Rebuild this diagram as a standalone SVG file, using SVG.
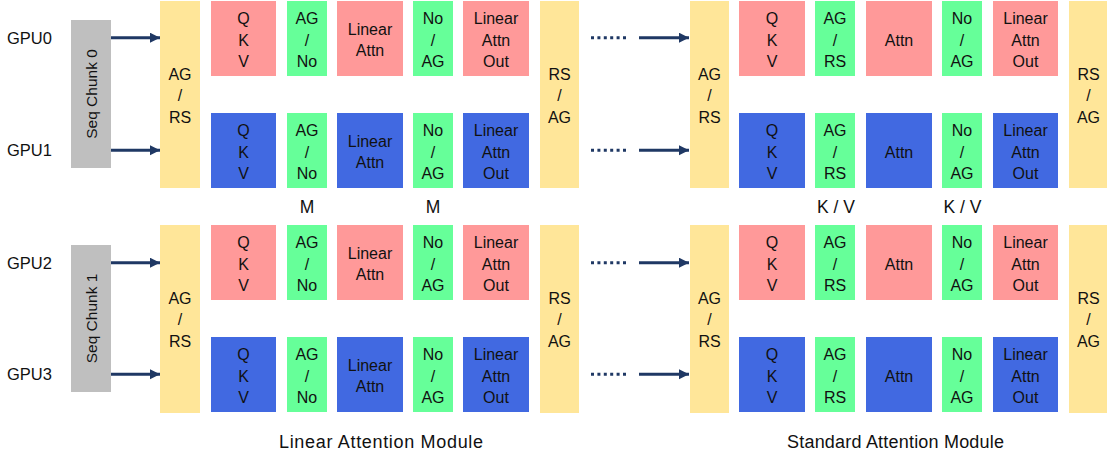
<svg xmlns="http://www.w3.org/2000/svg" width="1107" height="457" viewBox="0 0 1107 457">
<style>
.pink{fill:#FF9999}
.blue{fill:#4169E1}
.green{fill:#66FF99}
.yellow{fill:#FFE699}
.gray{fill:#BFBFBF}
text{font-family:"Liberation Sans",Arial,sans-serif;fill:#111;text-anchor:middle}
.t{font-size:16px}
.lbl{font-size:17.5px}
.mod{font-size:18px}
.side{font-size:16.5px;text-anchor:start}
.conn{stroke:#1F3864;stroke-width:3;fill:none}
.dots{stroke:#1F3864;stroke-width:3;fill:none;stroke-dasharray:3 3.4}
</style>
<defs>
<marker id="ah" markerUnits="userSpaceOnUse" markerWidth="11" markerHeight="11" refX="10" refY="5" orient="auto">
<path d="M0,0 L10,5 L0,10 Z" fill="#1F3864"/>
</marker>
</defs>
<rect width="1107" height="457" fill="#fff"/>

<g id="gpu-labels">
<text class="side" x="7" y="43.5">GPU0</text>
<text class="side" x="7" y="156">GPU1</text>
<text class="side" x="7" y="268.5">GPU2</text>
<text class="side" x="7" y="380">GPU3</text>
</g>

<g id="seq-chunk-0"><rect class="gray" x="71" y="20" width="40" height="148"/><text class="t" transform="translate(96.5,94) rotate(-90)" style="font-size:15.5px">Seq Chunk 0</text></g>
<g id="seq-chunk-1"><rect class="gray" x="71" y="245" width="40" height="147"/><text class="t" transform="translate(96.5,318.5) rotate(-90)" style="font-size:15.5px">Seq Chunk 1</text></g>

<g id="connectors">
<line class="conn" x1="111" y1="37.7" x2="160" y2="37.7" marker-end="url(#ah)"/>
<line class="conn" x1="111" y1="150.3" x2="160" y2="150.3" marker-end="url(#ah)"/>
<line class="conn" x1="111" y1="262.7" x2="160" y2="262.7" marker-end="url(#ah)"/>
<line class="conn" x1="111" y1="374.3" x2="160" y2="374.3" marker-end="url(#ah)"/>
<line class="dots" x1="591" y1="37.7" x2="627" y2="37.7"/>
<line class="dots" x1="591" y1="150.3" x2="627" y2="150.3"/>
<line class="dots" x1="591" y1="262.7" x2="627" y2="262.7"/>
<line class="dots" x1="591" y1="374.3" x2="627" y2="374.3"/>
<line class="conn" x1="639" y1="37.7" x2="689" y2="37.7" marker-end="url(#ah)"/>
<line class="conn" x1="639" y1="150.3" x2="689" y2="150.3" marker-end="url(#ah)"/>
<line class="conn" x1="639" y1="262.7" x2="689" y2="262.7" marker-end="url(#ah)"/>
<line class="conn" x1="639" y1="374.3" x2="689" y2="374.3" marker-end="url(#ah)"/>
</g>

<!-- yellow tall blocks -->
<g id="y1-top"><rect class="yellow" x="160" y="1" width="40" height="187"/><text class="t"><tspan x="180" y="79.7">AG</tspan><tspan x="180" y="101.2">/</tspan><tspan x="180" y="122.7">RS</tspan></text></g>
<g id="y2-top"><rect class="yellow" x="540" y="1" width="39" height="187"/><text class="t"><tspan x="559.5" y="79.7">RS</tspan><tspan x="559.5" y="101.2">/</tspan><tspan x="559.5" y="122.7">AG</tspan></text></g>
<g id="y3-top"><rect class="yellow" x="690" y="1" width="39" height="187"/><text class="t"><tspan x="709.5" y="79.7">AG</tspan><tspan x="709.5" y="101.2">/</tspan><tspan x="709.5" y="122.7">RS</tspan></text></g>
<g id="y4-top"><rect class="yellow" x="1069" y="1" width="38" height="187"/><text class="t"><tspan x="1088.5" y="79.7">RS</tspan><tspan x="1088.5" y="101.2">/</tspan><tspan x="1088.5" y="122.7">AG</tspan></text></g>
<g id="y1-bot"><rect class="yellow" x="160" y="225" width="40" height="188"/><text class="t"><tspan x="180" y="303.7">AG</tspan><tspan x="180" y="325.2">/</tspan><tspan x="180" y="346.7">RS</tspan></text></g>
<g id="y2-bot"><rect class="yellow" x="540" y="225" width="39" height="188"/><text class="t"><tspan x="559.5" y="303.7">RS</tspan><tspan x="559.5" y="325.2">/</tspan><tspan x="559.5" y="346.7">AG</tspan></text></g>
<g id="y3-bot"><rect class="yellow" x="690" y="225" width="39" height="188"/><text class="t"><tspan x="709.5" y="303.7">AG</tspan><tspan x="709.5" y="325.2">/</tspan><tspan x="709.5" y="346.7">RS</tspan></text></g>
<g id="y4-bot"><rect class="yellow" x="1069" y="225" width="38" height="188"/><text class="t"><tspan x="1088.5" y="303.7">RS</tspan><tspan x="1088.5" y="325.2">/</tspan><tspan x="1088.5" y="346.7">AG</tspan></text></g>

<!-- Row GPU0 (pink) -->
<g id="r0-qkv"><rect class="pink" x="211" y="1" width="65" height="75"/><text class="t"><tspan x="243.5" y="24">Q</tspan><tspan x="243.5" y="45.5">K</tspan><tspan x="243.5" y="67">V</tspan></text></g>
<g id="r0-agno"><rect class="green" x="287" y="1" width="40" height="75"/><text class="t"><tspan x="307" y="24">AG</tspan><tspan x="307" y="45.5">/</tspan><tspan x="307" y="67">No</tspan></text></g>
<g id="r0-lin"><rect class="pink" x="337" y="1" width="66" height="75"/><text class="t"><tspan x="370" y="35">Linear</tspan><tspan x="370" y="56">Attn</tspan></text></g>
<g id="r0-noag"><rect class="green" x="413" y="1" width="40" height="75"/><text class="t"><tspan x="433" y="24">No</tspan><tspan x="433" y="45.5">/</tspan><tspan x="433" y="67">AG</tspan></text></g>
<g id="r0-out"><rect class="pink" x="463" y="1" width="66" height="75"/><text class="t"><tspan x="496" y="24">Linear</tspan><tspan x="496" y="45.5">Attn</tspan><tspan x="496" y="67">Out</tspan></text></g>
<g id="r0-sqkv"><rect class="pink" x="739" y="1" width="66" height="75"/><text class="t"><tspan x="772" y="24">Q</tspan><tspan x="772" y="45.5">K</tspan><tspan x="772" y="67">V</tspan></text></g>
<g id="r0-agrs"><rect class="green" x="815" y="1" width="40" height="75"/><text class="t"><tspan x="835" y="24">AG</tspan><tspan x="835" y="45.5">/</tspan><tspan x="835" y="67">RS</tspan></text></g>
<g id="r0-attn"><rect class="pink" x="866" y="1" width="66" height="75"/><text class="t" x="899" y="45.5">Attn</text></g>
<g id="r0-snoag"><rect class="green" x="942" y="1" width="40" height="75"/><text class="t"><tspan x="962" y="24">No</tspan><tspan x="962" y="45.5">/</tspan><tspan x="962" y="67">AG</tspan></text></g>
<g id="r0-sout"><rect class="pink" x="993" y="1" width="65" height="75"/><text class="t"><tspan x="1025.5" y="24">Linear</tspan><tspan x="1025.5" y="45.5">Attn</tspan><tspan x="1025.5" y="67">Out</tspan></text></g>

<!-- Row GPU1 (blue) -->
<g id="r1-qkv"><rect class="blue" x="211" y="113" width="65" height="75"/><text class="t"><tspan x="243.5" y="136">Q</tspan><tspan x="243.5" y="157.5">K</tspan><tspan x="243.5" y="179">V</tspan></text></g>
<g id="r1-agno"><rect class="green" x="287" y="113" width="40" height="75"/><text class="t"><tspan x="307" y="136">AG</tspan><tspan x="307" y="157.5">/</tspan><tspan x="307" y="179">No</tspan></text></g>
<g id="r1-lin"><rect class="blue" x="337" y="113" width="66" height="75"/><text class="t"><tspan x="370" y="147">Linear</tspan><tspan x="370" y="168">Attn</tspan></text></g>
<g id="r1-noag"><rect class="green" x="413" y="113" width="40" height="75"/><text class="t"><tspan x="433" y="136">No</tspan><tspan x="433" y="157.5">/</tspan><tspan x="433" y="179">AG</tspan></text></g>
<g id="r1-out"><rect class="blue" x="463" y="113" width="66" height="75"/><text class="t"><tspan x="496" y="136">Linear</tspan><tspan x="496" y="157.5">Attn</tspan><tspan x="496" y="179">Out</tspan></text></g>
<g id="r1-sqkv"><rect class="blue" x="739" y="113" width="66" height="75"/><text class="t"><tspan x="772" y="136">Q</tspan><tspan x="772" y="157.5">K</tspan><tspan x="772" y="179">V</tspan></text></g>
<g id="r1-agrs"><rect class="green" x="815" y="113" width="40" height="75"/><text class="t"><tspan x="835" y="136">AG</tspan><tspan x="835" y="157.5">/</tspan><tspan x="835" y="179">RS</tspan></text></g>
<g id="r1-attn"><rect class="blue" x="866" y="113" width="66" height="75"/><text class="t" x="899" y="157.5">Attn</text></g>
<g id="r1-snoag"><rect class="green" x="942" y="113" width="40" height="75"/><text class="t"><tspan x="962" y="136">No</tspan><tspan x="962" y="157.5">/</tspan><tspan x="962" y="179">AG</tspan></text></g>
<g id="r1-sout"><rect class="blue" x="993" y="113" width="65" height="75"/><text class="t"><tspan x="1025.5" y="136">Linear</tspan><tspan x="1025.5" y="157.5">Attn</tspan><tspan x="1025.5" y="179">Out</tspan></text></g>

<!-- Row GPU2 (pink) -->
<g id="r2-qkv"><rect class="pink" x="211" y="225" width="65" height="75"/><text class="t"><tspan x="243.5" y="248">Q</tspan><tspan x="243.5" y="269.5">K</tspan><tspan x="243.5" y="291">V</tspan></text></g>
<g id="r2-agno"><rect class="green" x="287" y="225" width="40" height="75"/><text class="t"><tspan x="307" y="248">AG</tspan><tspan x="307" y="269.5">/</tspan><tspan x="307" y="291">No</tspan></text></g>
<g id="r2-lin"><rect class="pink" x="337" y="225" width="66" height="75"/><text class="t"><tspan x="370" y="259">Linear</tspan><tspan x="370" y="280">Attn</tspan></text></g>
<g id="r2-noag"><rect class="green" x="413" y="225" width="40" height="75"/><text class="t"><tspan x="433" y="248">No</tspan><tspan x="433" y="269.5">/</tspan><tspan x="433" y="291">AG</tspan></text></g>
<g id="r2-out"><rect class="pink" x="463" y="225" width="66" height="75"/><text class="t"><tspan x="496" y="248">Linear</tspan><tspan x="496" y="269.5">Attn</tspan><tspan x="496" y="291">Out</tspan></text></g>
<g id="r2-sqkv"><rect class="pink" x="739" y="225" width="66" height="75"/><text class="t"><tspan x="772" y="248">Q</tspan><tspan x="772" y="269.5">K</tspan><tspan x="772" y="291">V</tspan></text></g>
<g id="r2-agrs"><rect class="green" x="815" y="225" width="40" height="75"/><text class="t"><tspan x="835" y="248">AG</tspan><tspan x="835" y="269.5">/</tspan><tspan x="835" y="291">RS</tspan></text></g>
<g id="r2-attn"><rect class="pink" x="866" y="225" width="66" height="75"/><text class="t" x="899" y="269.5">Attn</text></g>
<g id="r2-snoag"><rect class="green" x="942" y="225" width="40" height="75"/><text class="t"><tspan x="962" y="248">No</tspan><tspan x="962" y="269.5">/</tspan><tspan x="962" y="291">AG</tspan></text></g>
<g id="r2-sout"><rect class="pink" x="993" y="225" width="65" height="75"/><text class="t"><tspan x="1025.5" y="248">Linear</tspan><tspan x="1025.5" y="269.5">Attn</tspan><tspan x="1025.5" y="291">Out</tspan></text></g>

<!-- Row GPU3 (blue) -->
<g id="r3-qkv"><rect class="blue" x="211" y="337" width="65" height="75"/><text class="t"><tspan x="243.5" y="360">Q</tspan><tspan x="243.5" y="381.5">K</tspan><tspan x="243.5" y="403">V</tspan></text></g>
<g id="r3-agno"><rect class="green" x="287" y="337" width="40" height="75"/><text class="t"><tspan x="307" y="360">AG</tspan><tspan x="307" y="381.5">/</tspan><tspan x="307" y="403">No</tspan></text></g>
<g id="r3-lin"><rect class="blue" x="337" y="337" width="66" height="75"/><text class="t"><tspan x="370" y="371">Linear</tspan><tspan x="370" y="392">Attn</tspan></text></g>
<g id="r3-noag"><rect class="green" x="413" y="337" width="40" height="75"/><text class="t"><tspan x="433" y="360">No</tspan><tspan x="433" y="381.5">/</tspan><tspan x="433" y="403">AG</tspan></text></g>
<g id="r3-out"><rect class="blue" x="463" y="337" width="66" height="75"/><text class="t"><tspan x="496" y="360">Linear</tspan><tspan x="496" y="381.5">Attn</tspan><tspan x="496" y="403">Out</tspan></text></g>
<g id="r3-sqkv"><rect class="blue" x="739" y="337" width="66" height="75"/><text class="t"><tspan x="772" y="360">Q</tspan><tspan x="772" y="381.5">K</tspan><tspan x="772" y="403">V</tspan></text></g>
<g id="r3-agrs"><rect class="green" x="815" y="337" width="40" height="75"/><text class="t"><tspan x="835" y="360">AG</tspan><tspan x="835" y="381.5">/</tspan><tspan x="835" y="403">RS</tspan></text></g>
<g id="r3-attn"><rect class="blue" x="866" y="337" width="66" height="75"/><text class="t" x="899" y="381.5">Attn</text></g>
<g id="r3-snoag"><rect class="green" x="942" y="337" width="40" height="75"/><text class="t"><tspan x="962" y="360">No</tspan><tspan x="962" y="381.5">/</tspan><tspan x="962" y="403">AG</tspan></text></g>
<g id="r3-sout"><rect class="blue" x="993" y="337" width="65" height="75"/><text class="t"><tspan x="1025.5" y="360">Linear</tspan><tspan x="1025.5" y="381.5">Attn</tspan><tspan x="1025.5" y="403">Out</tspan></text></g>

<g id="labels">
<text class="lbl" x="307" y="213.3">M</text>
<text class="lbl" x="433" y="213.3">M</text>
<text class="lbl" x="836" y="213.3">K / V</text>
<text class="lbl" x="962.5" y="213.3">K / V</text>
<text class="mod" x="381" y="448" textLength="204" lengthAdjust="spacing">Linear Attention Module</text>
<text class="mod" x="895.5" y="448" textLength="217" lengthAdjust="spacing">Standard Attention Module</text>
</g>
</svg>
